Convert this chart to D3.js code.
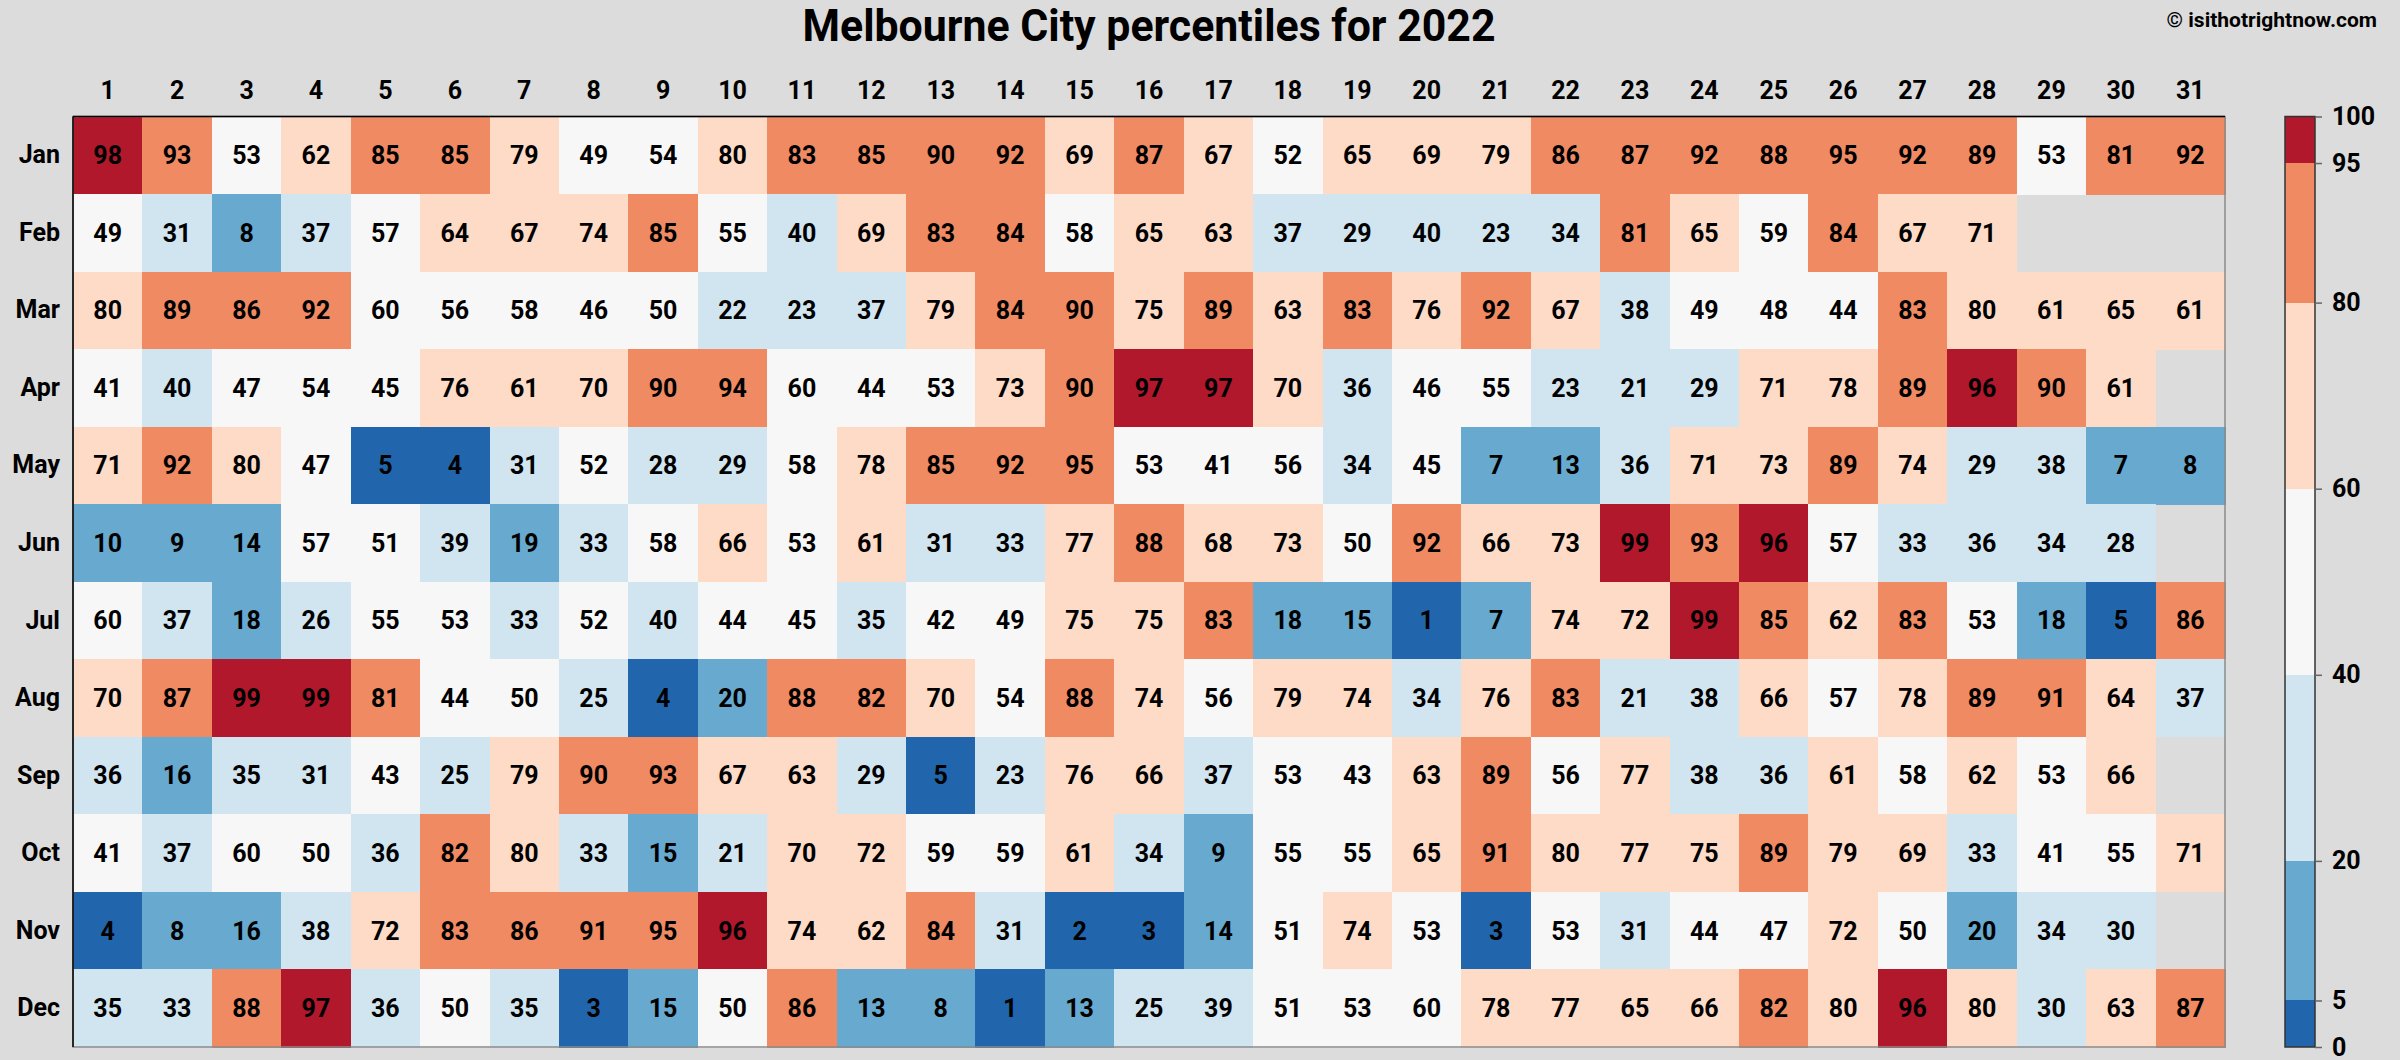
<!DOCTYPE html>
<html>
<head>
<meta charset="utf-8">
<script src="https://cdn.jsdelivr.net/npm/d3@7"></script>
<style>
  html, body { margin: 0; padding: 0; background: #dcdcdc; }
  svg { display: block; }
  text { font-family: Roboto, "Noto Sans", sans-serif; font-weight: 700; fill: #000; }
</style>
</head>
<body>
<svg id="chart" width="2400" height="1060"></svg>
<script>
const months = ["Jan","Feb","Mar","Apr","May","Jun","Jul","Aug","Sep","Oct","Nov","Dec"];
const days = d3.range(1, 32);
const jan = [98,93,53,62,85,85,79,49,54,80,83,85,90,92,69,87,67,52,65,69,79,86,87,92,88,95,92,89,53,81,92];
const feb = [49,31,8,37,57,64,67,74,85,55,40,69,83,84,58,65,63,37,29,40,23,34,81,65,59,84,67,71];
const mar = [80,89,86,92,60,56,58,46,50,22,23,37,79,84,90,75,89,63,83,76,92,67,38,49,48,44,83,80,61,65,61];
const apr = [41,40,47,54,45,76,61,70,90,94,60,44,53,73,90,97,97,70,36,46,55,23,21,29,71,78,89,96,90,61];
const may = [71,92,80,47,5,4,31,52,28,29,58,78,85,92,95,53,41,56,34,45,7,13,36,71,73,89,74,29,38,7,8];
const jun = [10,9,14,57,51,39,19,33,58,66,53,61,31,33,77,88,68,73,50,92,66,73,99,93,96,57,33,36,34,28];
const jul = [60,37,18,26,55,53,33,52,40,44,45,35,42,49,75,75,83,18,15,1,7,74,72,99,85,62,83,53,18,5,86];
const aug = [70,87,99,99,81,44,50,25,4,20,88,82,70,54,88,74,56,79,74,34,76,83,21,38,66,57,78,89,91,64,37];
const sep = [36,16,35,31,43,25,79,90,93,67,63,29,5,23,76,66,37,53,43,63,89,56,77,38,36,61,58,62,53,66];
const oct = [41,37,60,50,36,82,80,33,15,21,70,72,59,59,61,34,9,55,55,65,91,80,77,75,89,79,69,33,41,55,71];
const nov = [4,8,16,38,72,83,86,91,95,96,74,62,84,31,2,3,14,51,74,53,3,53,31,44,47,72,50,20,34,30];
const dec = [35,33,88,97,36,50,35,3,15,50,86,13,8,1,13,25,39,51,53,60,78,77,65,66,82,80,96,80,30,63,87];
const monthValues = [jan,feb,mar,apr,may,jun,jul,aug,sep,oct,nov,dec];

const breaks = [5, 20, 40, 60, 80, 95];
const legendTicks = [0, 5, 20, 40, 60, 80, 95, 100];
const palette = ["#2166ac","#67a9cf","#d1e5f0","#f7f7f7","#fddbc7","#ef8a62","#b2182b"];
const titleText = "Melbourne City percentiles for 2022";
const creditText = "\u00a9 isithotrightnow.com";

// right-closed bins: (0,5], (5,20], ... (95,100]
const colorOf = v => palette[d3.bisectLeft(breaks, v)];

const cells = [];
monthValues.forEach((arr, mi) => arr.forEach((v, di) => cells.push({month: months[mi], day: di + 1, value: v})));

const svg = d3.select("#chart");
const plot = {left: 73, right: 2225, top: 116.5, bottom: 1047};

const x = d3.scaleBand().domain(days).range([plot.left, plot.right]).padding(0);
const y = d3.scaleBand().domain(months).range([plot.top, plot.bottom]).padding(0);

// cells
svg.append("g").selectAll("rect").data(cells).join("rect")
  .attr("x", d => x(d.day))
  .attr("y", d => y(d.month))
  .attr("width", x.bandwidth() + 0.5)
  .attr("height", y.bandwidth() + 0.5)
  .attr("fill", d => colorOf(d.value))
  .attr("shape-rendering", "crispEdges");

// panel border
svg.append("rect")
  .attr("x", plot.left).attr("y", plot.top)
  .attr("width", plot.right - plot.left).attr("height", plot.bottom - plot.top)
  .attr("fill", "none").attr("stroke", "#8a8a8a").attr("stroke-width", 1.5);
svg.append("line").attr("x1", plot.left).attr("x2", plot.right).attr("y1", plot.top).attr("y2", plot.top)
  .attr("stroke", "#000").attr("stroke-width", 1.5);
svg.append("line").attr("x1", plot.left).attr("x2", plot.left).attr("y1", plot.top).attr("y2", plot.bottom)
  .attr("stroke", "#000").attr("stroke-width", 1.5);

// cell labels
svg.append("g").selectAll("text").data(cells).join("text")
  .attr("x", d => x(d.day) + x.bandwidth() / 2)
  .attr("y", d => y(d.month) + y.bandwidth() / 2)
  .attr("dy", "0.355em")
  .attr("text-anchor", "middle")
  .style("font-size", "25px")
  .text(d => d.value);

// top axis (days)
const xAxis = svg.append("g").attr("transform", `translate(0,${plot.top})`)
  .call(d3.axisTop(x).tickSize(0).tickPadding(18));
xAxis.select(".domain").remove();
xAxis.selectAll("text").style("font-size", "25px").style("font-family", "Roboto").style("font-weight", 700).attr("fill", "#000");

// left axis (months)
const yAxis = svg.append("g").attr("transform", `translate(${plot.left},0)`)
  .call(d3.axisLeft(y).tickSize(0).tickPadding(13));
yAxis.select(".domain").remove();
yAxis.selectAll("text").style("font-size", "25px").style("font-family", "Roboto").style("font-weight", 700).attr("fill", "#000");

// colour bar
const bar = {x: 2285, w: 30};
const cy = d3.scaleLinear().domain([0, 100]).range([plot.bottom, plot.top]);
const segs = d3.pairs(legendTicks);
svg.append("g").selectAll("rect").data(segs).join("rect")
  .attr("x", bar.x).attr("width", bar.w)
  .attr("y", d => cy(d[1])).attr("height", d => cy(d[0]) - cy(d[1]))
  .attr("fill", d => colorOf(d[1]))
  .attr("shape-rendering", "crispEdges");
svg.append("rect").attr("x", bar.x).attr("y", plot.top).attr("width", bar.w).attr("height", plot.bottom - plot.top)
  .attr("fill", "none").attr("stroke", "#333").attr("stroke-width", 1.5);
const cAxis = svg.append("g").attr("transform", `translate(${bar.x + bar.w},0)`)
  .call(d3.axisRight(cy).tickValues(legendTicks).tickSize(7).tickPadding(10).tickFormat(d3.format("d")));
cAxis.select(".domain").remove();
cAxis.selectAll("line").attr("stroke", "#666").attr("stroke-width", 1.5);
cAxis.selectAll("text").style("font-size", "25px").style("font-family", "Roboto").style("font-weight", 700).attr("fill", "#000");

// title
const title = svg.append("text")
  .attr("x", (plot.left + plot.right) / 2).attr("y", 41)
  .attr("text-anchor", "middle")
  .style("font-size", "44px")
  .text(titleText);
const tw = title.node().getComputedTextLength();
if (tw > 693) title.attr("textLength", 693).attr("lengthAdjust", "spacingAndGlyphs");

// credit
svg.append("text")
  .attr("x", 2377).attr("y", 27)
  .attr("text-anchor", "end")
  .style("font-size", "21px")
  .text(creditText);
</script>
</body>
</html>
